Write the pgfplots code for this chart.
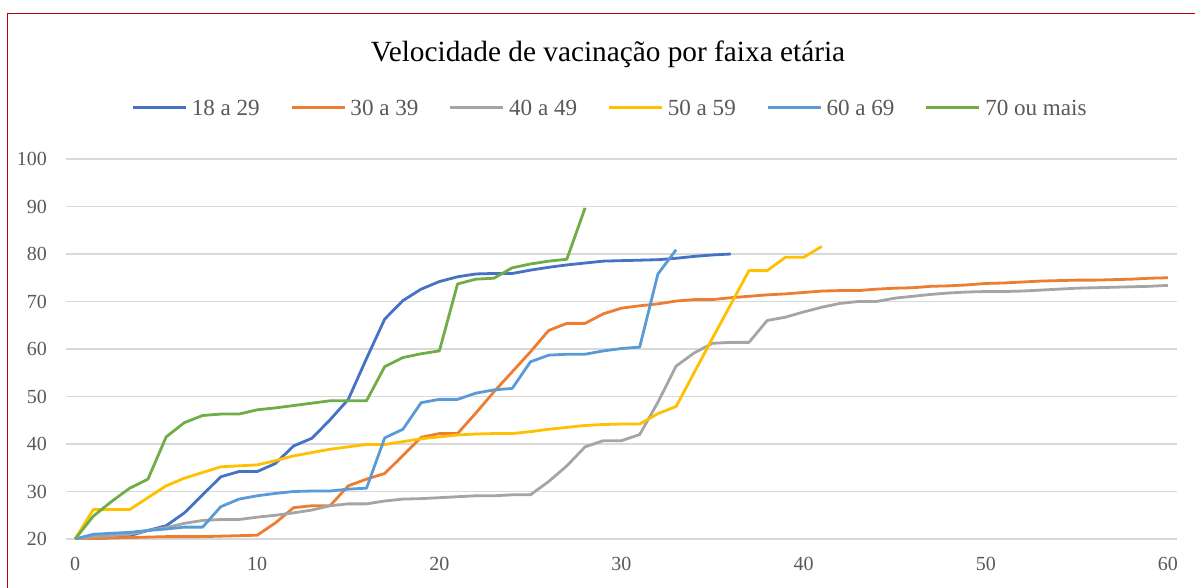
\documentclass[border=0pt]{standalone}
\usepackage{fontspec}
\setmainfont{Liberation Serif}
\usepackage{pgfplots}
\pgfplotsset{compat=1.18}

\definecolor{cA}{HTML}{4472C4}
\definecolor{cB}{HTML}{ED7D31}
\definecolor{cC}{HTML}{A5A5A5}
\definecolor{cD}{HTML}{FFC000}
\definecolor{cE}{HTML}{5B9BD5}
\definecolor{cF}{HTML}{70AD47}
\definecolor{gridgray}{HTML}{D9D9D9}
\definecolor{labelgray}{HTML}{595959}
\definecolor{borderred}{HTML}{C00000}

\begin{document}
\begin{tikzpicture}
\begin{axis}[
    at={(66pt,-539pt)}, anchor=south west,
    scale only axis, width=1111pt, height=380pt,
    xmin=-0.5, xmax=60.5, ymin=20, ymax=100,
    xtick={0,10,...,60}, ytick={20,30,...,100},
    axis line style={draw=none},
    major tick length=0pt,
    ymajorgrids,
    grid style={color=gridgray, line width=1.3pt},
    tick label style={font=\fontsize{20}{24}\selectfont, text=labelgray, inner sep=0pt},
    yticklabel style={xshift=-19pt},
    xticklabel style={yshift=-18pt},
    /pgf/number format/assume math mode=true,
    every axis plot/.append style={line width=2.8pt, line join=round, no markers},
    legend columns=6,
    legend image code/.code={\draw[#1, line width=2.7pt] (0pt,8.4pt) -- (53pt,8.4pt);},
    legend style={at={(0.0590,1.1318)}, anchor=west, draw=none, fill=none,
        inner sep=0pt, outer sep=0pt,
        cells={anchor=base west, inner sep=0pt, font=\fontsize{23.1}{27}\selectfont, text=labelgray},
        /tikz/every odd column/.style={column sep=2.5pt},
        /tikz/every even column/.style={column sep=28.5pt}},
]
% 18 a 29
\addplot[cA] coordinates {
 (0,20) (1,20.1) (2,20.3) (3,20.7) (4,21.8) (5,22.8) (6,25.5) (7,29.3) (8,33.1) (9,34.2)
 (10,34.2) (11,35.9) (12,39.6) (13,41.2) (14,45.1) (15,49.4) (16,58.0) (17,66.3) (18,70.2) (19,72.6)
 (20,74.2) (21,75.2) (22,75.8) (23,75.9) (24,75.9) (25,76.6) (26,77.2) (27,77.7) (28,78.1) (29,78.5)
 (30,78.6) (31,78.7) (32,78.8) (33,79.1) (34,79.5) (35,79.8) (36,80.0)
};
\addlegendentry{18 a 29}
% 30 a 39
\addplot[cB] coordinates {
 (0,20) (1,20.1) (2,20.2) (3,20.3) (4,20.4) (5,20.5) (6,20.5) (7,20.5) (8,20.6) (9,20.7)
 (10,20.8) (11,23.4) (12,26.6) (13,27.0) (14,27.0) (15,31.2) (16,32.6) (17,33.8) (18,37.6) (19,41.4)
 (20,42.2) (21,42.2) (22,46.5) (23,51.0) (24,55.2) (25,59.4) (26,63.9) (27,65.4) (28,65.4) (29,67.4)
 (30,68.6) (31,69.1) (32,69.5) (33,70.1) (34,70.4) (35,70.4) (36,70.8) (37,71.1) (38,71.4) (39,71.6)
 (40,71.9) (41,72.2) (42,72.3) (43,72.3) (44,72.6) (45,72.8) (46,72.9) (47,73.2) (48,73.3) (49,73.5)
 (50,73.8) (51,73.9) (52,74.1) (53,74.3) (54,74.4) (55,74.5) (56,74.5) (57,74.6) (58,74.7) (59,74.9)
 (60,75.0)
};
\addlegendentry{30 a 39}
% 40 a 49
\addplot[cC] coordinates {
 (0,20) (1,20.5) (2,20.7) (3,21.0) (4,21.8) (5,22.4) (6,23.3) (7,23.9) (8,24.1) (9,24.1)
 (10,24.6) (11,25.0) (12,25.5) (13,26.1) (14,27.0) (15,27.4) (16,27.4) (17,28.0) (18,28.4) (19,28.5)
 (20,28.7) (21,28.9) (22,29.1) (23,29.1) (24,29.3) (25,29.3) (26,32.1) (27,35.4) (28,39.4) (29,40.7)
 (30,40.7) (31,42.0) (32,48.8) (33,56.4) (34,59.2) (35,61.2) (36,61.4) (37,61.4) (38,66.0) (39,66.7)
 (40,67.8) (41,68.8) (42,69.6) (43,70.0) (44,70.0) (45,70.7) (46,71.1) (47,71.5) (48,71.8) (49,72.0)
 (50,72.1) (51,72.1) (52,72.2) (53,72.4) (54,72.6) (55,72.8) (56,72.9) (57,73.0) (58,73.1) (59,73.2)
 (60,73.4)
};
\addlegendentry{40 a 49}
% 50 a 59
\addplot[cD] coordinates {
 (0,20) (1,26.2) (2,26.2) (3,26.2) (4,28.7) (5,31.2) (6,32.8) (7,34.0) (8,35.2) (9,35.4)
 (10,35.6) (11,36.5) (12,37.5) (13,38.2) (14,38.9) (15,39.4) (16,39.9) (17,39.9) (18,40.5) (19,41.1)
 (20,41.5) (21,41.9) (22,42.1) (23,42.2) (24,42.2) (25,42.6) (26,43.1) (27,43.5) (28,43.9) (29,44.1)
 (30,44.2) (31,44.2) (32,46.4) (33,47.9) (34,55.1) (35,62.3) (36,69.4) (37,76.5) (38,76.5) (39,79.3)
 (40,79.3) (41,81.6)
};
\addlegendentry{50 a 59}
% 60 a 69
\addplot[cE] coordinates {
 (0,20) (1,21.0) (2,21.2) (3,21.4) (4,21.8) (5,22.1) (6,22.5) (7,22.5) (8,26.8) (9,28.4)
 (10,29.1) (11,29.6) (12,30.0) (13,30.1) (14,30.1) (15,30.5) (16,30.7) (17,41.3) (18,43.1) (19,48.7)
 (20,49.4) (21,49.4) (22,50.7) (23,51.4) (24,51.7) (25,57.3) (26,58.7) (27,58.9) (28,58.9) (29,59.6)
 (30,60.1) (31,60.4) (32,75.8) (33,80.9)
};
\addlegendentry{60 a 69}
% 70 ou mais
\addplot[cF] coordinates {
 (0,20) (1,24.8) (2,27.9) (3,30.7) (4,32.6) (5,41.5) (6,44.5) (7,46.0) (8,46.3) (9,46.3)
 (10,47.2) (11,47.6) (12,48.1) (13,48.6) (14,49.1) (15,49.1) (16,49.1) (17,56.3) (18,58.2) (19,59.0)
 (20,59.6) (21,73.7) (22,74.7) (23,74.9) (24,77.1) (25,77.9) (26,78.5) (27,78.9) (28,89.7)
};
\addlegendentry{70 ou mais}
\end{axis}
\node[anchor=base, font=\fontsize{29.3}{34}\selectfont] at (608pt,-61.7pt)
    {Velocidade de vacinação por faixa etária};
\draw[borderred, line width=1.3pt] (7.5pt,-13.5pt) rectangle (1230pt,-630pt);
\pgfresetboundingbox
\useasboundingbox (0pt,0pt) rectangle (1195pt,-588pt);
\end{tikzpicture}
\end{document}
